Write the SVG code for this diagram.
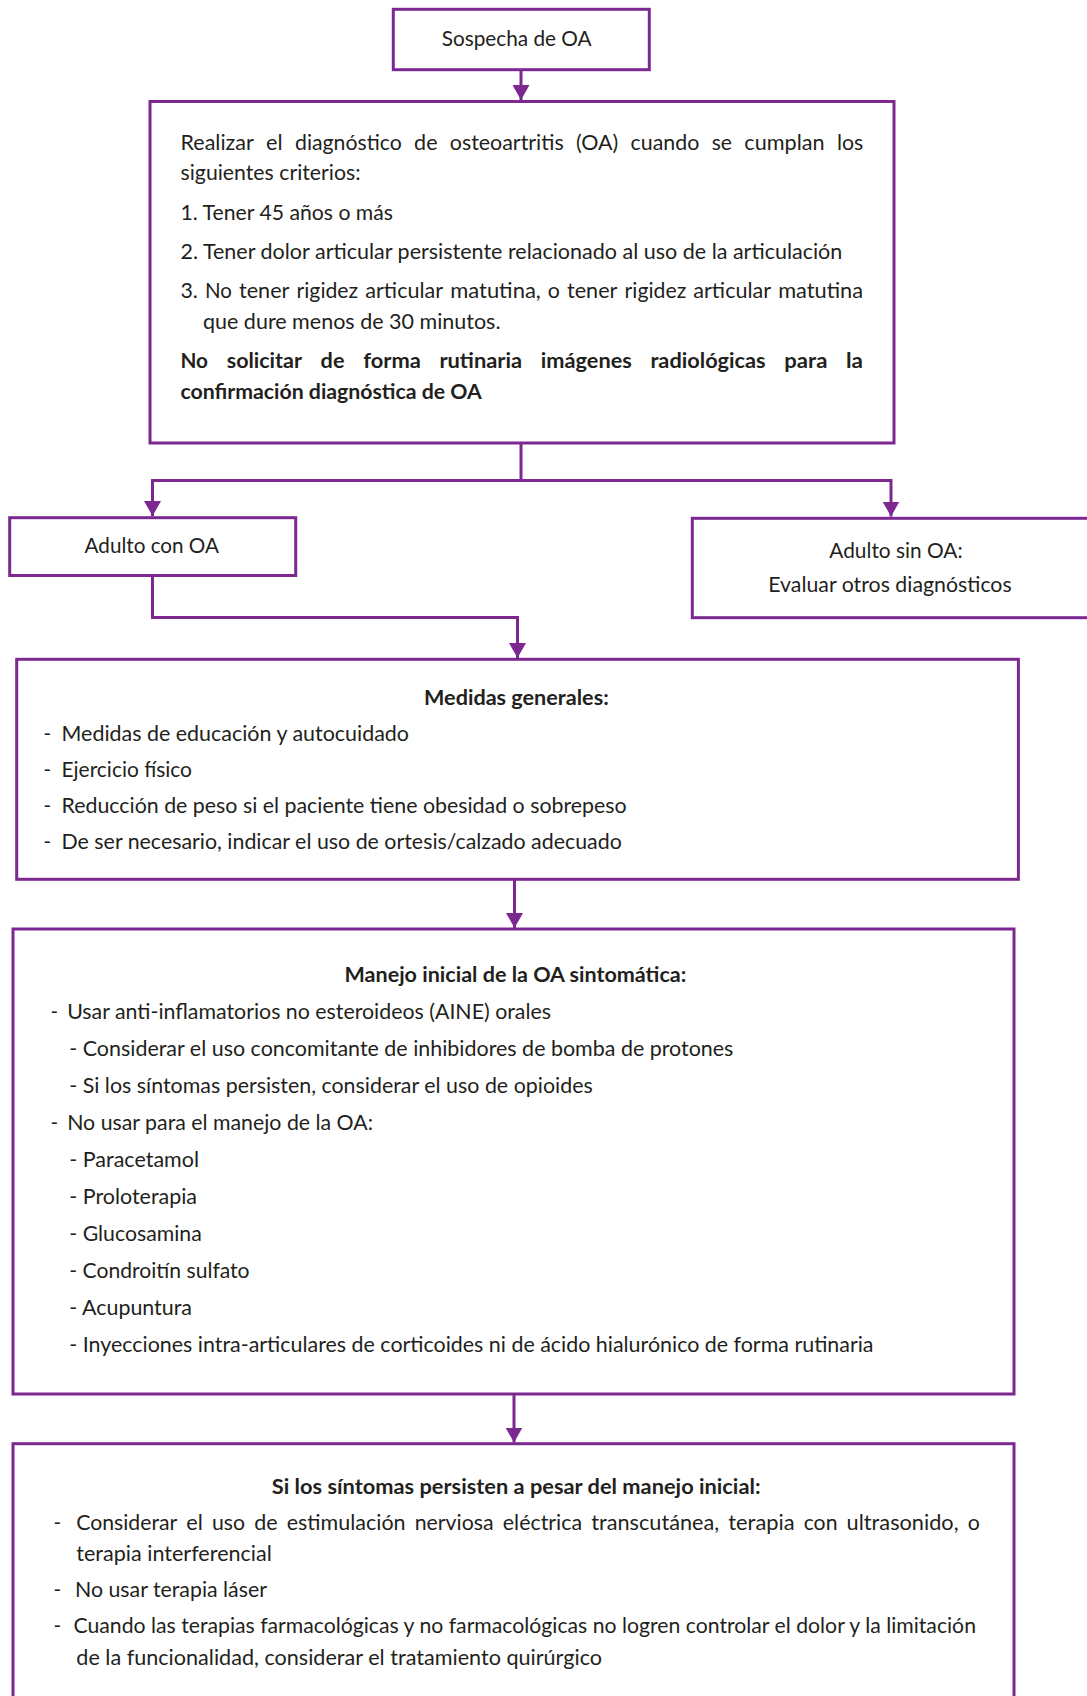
<svg xmlns="http://www.w3.org/2000/svg" width="1087" height="1696" viewBox="0 0 1087 1696">
<style>
.t{font-family:Lato,"Liberation Sans",sans-serif;font-size:20.5px;fill:#231f20}
.b{font-weight:700}
.box{fill:#fff;stroke:#7d2891;stroke-width:3}
.conn{fill:none;stroke:#7d2891;stroke-width:3;marker-end:url(#ah)}
</style>
<defs>
<marker id="ah" markerUnits="userSpaceOnUse" markerWidth="16" markerHeight="17" refX="15" refY="8.5" orient="auto">
<path d="M0,0 L15,8.5 L0,17 Z" fill="#7d2891"/>
</marker>
</defs>
<rect width="1087" height="1696" fill="#fff"/>
<g id="connectors">
<path class="conn" d="M521,70 V100"/>
<path class="conn" d="M521,443 V480.5 H152.5 V516"/>
<path class="conn" d="M521,480.5 H891 V516.5"/>
<path class="conn" d="M152.5,576 V617.5 H517.5 V658"/>
<path class="conn" d="M514.5,879.5 V928"/>
<path class="conn" d="M514,1394 V1442.5"/>
</g>
<g id="n1">
<rect class="box" x="393.3" y="9.3" width="256" height="60.4"/>
<text class="t" x="441.7" y="45.5" textLength="150" lengthAdjust="spacingAndGlyphs">Sospecha de OA</text>
</g>
<g id="n2">
<rect class="box" x="150" y="101.5" width="744" height="341.5"/>
<g id="n2-line1">
<text class="t" x="180.5" y="150" textLength="73.3" lengthAdjust="spacingAndGlyphs">Realizar</text>
<text class="t" x="266.1" y="150" textLength="16.6" lengthAdjust="spacingAndGlyphs">el</text>
<text class="t" x="295" y="150" textLength="106.8" lengthAdjust="spacingAndGlyphs">diagnóstico</text>
<text class="t" x="414.1" y="150" textLength="23.4" lengthAdjust="spacingAndGlyphs">de</text>
<text class="t" x="449.8" y="150" textLength="113.9" lengthAdjust="spacingAndGlyphs">osteoartritis</text>
<text class="t" x="576" y="150" textLength="42.3" lengthAdjust="spacingAndGlyphs">(OA)</text>
<text class="t" x="630.6" y="150" textLength="68.8" lengthAdjust="spacingAndGlyphs">cuando</text>
<text class="t" x="711.7" y="150" textLength="20.3" lengthAdjust="spacingAndGlyphs">se</text>
<text class="t" x="744.3" y="150" textLength="80.3" lengthAdjust="spacingAndGlyphs">cumplan</text>
<text class="t" x="836.9" y="150" textLength="26.3" lengthAdjust="spacingAndGlyphs">los</text>
</g>
<text class="t" x="180.5" y="180" textLength="180" lengthAdjust="spacingAndGlyphs">siguientes criterios:</text>
<text class="t" x="180.5" y="220" textLength="212.5" lengthAdjust="spacingAndGlyphs">1. Tener 45 años o más</text>
<text class="t" x="180.5" y="259" textLength="661.8" lengthAdjust="spacingAndGlyphs">2. Tener dolor articular persistente relacionado al uso de la articulación</text>
<g id="n2-line5">
<text class="t" x="180.5" y="298" textLength="17.4" lengthAdjust="spacingAndGlyphs">3.</text>
<text class="t" x="205" y="298" textLength="26.9" lengthAdjust="spacingAndGlyphs">No</text>
<text class="t" x="239" y="298" textLength="50.5" lengthAdjust="spacingAndGlyphs">tener</text>
<text class="t" x="296.5" y="298" textLength="61.7" lengthAdjust="spacingAndGlyphs">rigidez</text>
<text class="t" x="365.3" y="298" textLength="77.8" lengthAdjust="spacingAndGlyphs">articular</text>
<text class="t" x="450.2" y="298" textLength="90.6" lengthAdjust="spacingAndGlyphs">matutina,</text>
<text class="t" x="547.8" y="298" textLength="12.1" lengthAdjust="spacingAndGlyphs">o</text>
<text class="t" x="567" y="298" textLength="50.5" lengthAdjust="spacingAndGlyphs">tener</text>
<text class="t" x="624.6" y="298" textLength="61.7" lengthAdjust="spacingAndGlyphs">rigidez</text>
<text class="t" x="693.3" y="298" textLength="77.8" lengthAdjust="spacingAndGlyphs">articular</text>
<text class="t" x="778.2" y="298" textLength="84.9" lengthAdjust="spacingAndGlyphs">matutina</text>
</g>
<text class="t" x="203" y="329" textLength="297.5" lengthAdjust="spacingAndGlyphs">que dure menos de 30 minutos.</text>
<g id="n2-line7">
<text class="t b" x="180.5" y="368" textLength="27.5" lengthAdjust="spacingAndGlyphs">No</text>
<text class="t b" x="226.7" y="368" textLength="75.3" lengthAdjust="spacingAndGlyphs">solicitar</text>
<text class="t b" x="320.6" y="368" textLength="23.9" lengthAdjust="spacingAndGlyphs">de</text>
<text class="t b" x="363.2" y="368" textLength="57.6" lengthAdjust="spacingAndGlyphs">forma</text>
<text class="t b" x="439.4" y="368" textLength="82.7" lengthAdjust="spacingAndGlyphs">rutinaria</text>
<text class="t b" x="540.8" y="368" textLength="91" lengthAdjust="spacingAndGlyphs">imágenes</text>
<text class="t b" x="650.4" y="368" textLength="115.2" lengthAdjust="spacingAndGlyphs">radiológicas</text>
<text class="t b" x="784.3" y="368" textLength="43.1" lengthAdjust="spacingAndGlyphs">para</text>
<text class="t b" x="846" y="368" textLength="17" lengthAdjust="spacingAndGlyphs">la</text>
</g>
<text class="t b" x="180.5" y="399" textLength="301.3" lengthAdjust="spacingAndGlyphs">confirmación diagnóstica de OA</text>
</g>
<g id="n3">
<rect class="box" x="9.7" y="517.7" width="286" height="57.8"/>
<text class="t" x="84.6" y="553.3" textLength="134.4" lengthAdjust="spacingAndGlyphs">Adulto con OA</text>
</g>
<g id="n4">
<rect class="box" x="692.3" y="518.3" width="420" height="99.4"/>
<text class="t" x="829.3" y="558.3" textLength="133.4" lengthAdjust="spacingAndGlyphs">Adulto sin OA:</text>
<text class="t" x="768.3" y="591.7" textLength="243.4" lengthAdjust="spacingAndGlyphs">Evaluar otros diagnósticos</text>
</g>
<g id="n5">
<rect class="box" x="16.7" y="659.3" width="1001.7" height="220"/>
<text class="t b" x="424" y="705" textLength="184.7" lengthAdjust="spacingAndGlyphs">Medidas generales:</text>
<text class="t" x="43.5" y="741">-</text>
<text class="t" x="61.5" y="741" textLength="347.5" lengthAdjust="spacingAndGlyphs">Medidas de educación y autocuidado</text>
<text class="t" x="43.5" y="777">-</text>
<text class="t" x="61.5" y="777" textLength="130.5" lengthAdjust="spacingAndGlyphs">Ejercicio físico</text>
<text class="t" x="43.5" y="813">-</text>
<text class="t" x="61.5" y="813" textLength="565.2" lengthAdjust="spacingAndGlyphs">Reducción de peso si el paciente tiene obesidad o sobrepeso</text>
<text class="t" x="43.5" y="849">-</text>
<text class="t" x="61.5" y="849" textLength="560.3" lengthAdjust="spacingAndGlyphs">De ser necesario, indicar el uso de ortesis/calzado adecuado</text>
</g>
<g id="n6">
<rect class="box" x="13" y="929" width="1001" height="465"/>
<text class="t b" x="344.5" y="982" textLength="341.8" lengthAdjust="spacingAndGlyphs">Manejo inicial de la OA sintomática:</text>
<text class="t" x="50.6" y="1019">-</text>
<text class="t" x="67.2" y="1019" textLength="483.8" lengthAdjust="spacingAndGlyphs">Usar anti-inflamatorios no esteroideos (AINE) orales</text>
<text class="t" x="69.3" y="1056" textLength="664.1" lengthAdjust="spacingAndGlyphs">- Considerar el uso concomitante de inhibidores de bomba de protones</text>
<text class="t" x="69.3" y="1093" textLength="523.4" lengthAdjust="spacingAndGlyphs">- Si los síntomas persisten, considerar el uso de opioides</text>
<text class="t" x="50.6" y="1130">-</text>
<text class="t" x="67.2" y="1130" textLength="305.8" lengthAdjust="spacingAndGlyphs">No usar para el manejo de la OA:</text>
<text class="t" x="69.3" y="1167" textLength="129.7" lengthAdjust="spacingAndGlyphs">- Paracetamol</text>
<text class="t" x="69.3" y="1204" textLength="127.7" lengthAdjust="spacingAndGlyphs">- Proloterapia</text>
<text class="t" x="69.3" y="1241" textLength="132.4" lengthAdjust="spacingAndGlyphs">- Glucosamina</text>
<text class="t" x="69.3" y="1278" textLength="180.3" lengthAdjust="spacingAndGlyphs">- Condroitín sulfato</text>
<text class="t" x="69.3" y="1315" textLength="122.7" lengthAdjust="spacingAndGlyphs">- Acupuntura</text>
<text class="t" x="69.3" y="1352" textLength="804.2" lengthAdjust="spacingAndGlyphs">- Inyecciones intra-articulares de corticoides ni de ácido hialurónico de forma rutinaria</text>
</g>
<g id="n7">
<rect class="box" x="13" y="1443.7" width="1001" height="300"/>
<text class="t b" x="271.8" y="1494" textLength="488.7" lengthAdjust="spacingAndGlyphs">Si los síntomas persisten a pesar del manejo inicial:</text>
<text class="t" x="53.4" y="1530">-</text>
<g id="n7-line1">
<text class="t" x="76.3" y="1530" textLength="100.9" lengthAdjust="spacingAndGlyphs">Considerar</text>
<text class="t" x="186.3" y="1530" textLength="16.6" lengthAdjust="spacingAndGlyphs">el</text>
<text class="t" x="212" y="1530" textLength="33.1" lengthAdjust="spacingAndGlyphs">uso</text>
<text class="t" x="254.2" y="1530" textLength="23.4" lengthAdjust="spacingAndGlyphs">de</text>
<text class="t" x="286.7" y="1530" textLength="118.9" lengthAdjust="spacingAndGlyphs">estimulación</text>
<text class="t" x="414.7" y="1530" textLength="79" lengthAdjust="spacingAndGlyphs">nerviosa</text>
<text class="t" x="502.8" y="1530" textLength="79.3" lengthAdjust="spacingAndGlyphs">eléctrica</text>
<text class="t" x="591.2" y="1530" textLength="128" lengthAdjust="spacingAndGlyphs">transcutánea,</text>
<text class="t" x="728.3" y="1530" textLength="66.3" lengthAdjust="spacingAndGlyphs">terapia</text>
<text class="t" x="803.7" y="1530" textLength="33.8" lengthAdjust="spacingAndGlyphs">con</text>
<text class="t" x="846.6" y="1530" textLength="112" lengthAdjust="spacingAndGlyphs">ultrasonido,</text>
<text class="t" x="967.7" y="1530" textLength="12.1" lengthAdjust="spacingAndGlyphs">o</text>
</g>
<text class="t" x="76.3" y="1561" textLength="195.5" lengthAdjust="spacingAndGlyphs">terapia interferencial</text>
<text class="t" x="53.4" y="1597">-</text>
<text class="t" x="75" y="1597" textLength="191.9" lengthAdjust="spacingAndGlyphs">No usar terapia láser</text>
<text class="t" x="53.4" y="1633">-</text>
<text class="t" x="73.5" y="1633" textLength="902.5" lengthAdjust="spacingAndGlyphs">Cuando las terapias farmacológicas y no farmacológicas no logren controlar el dolor y la limitación</text>
<text class="t" x="76.3" y="1665" textLength="525.7" lengthAdjust="spacingAndGlyphs">de la funcionalidad, considerar el tratamiento quirúrgico</text>
</g>
</svg>
